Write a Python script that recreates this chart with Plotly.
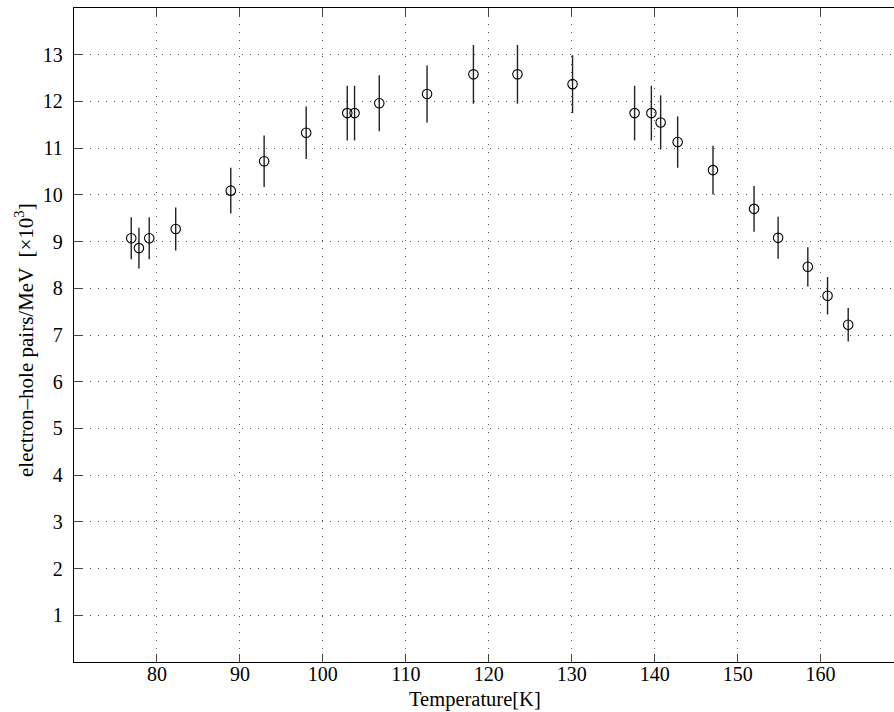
import plotly.graph_objects as go

# Measured pair-creation yield versus temperature
temperature_K = [76.9, 77.83, 79.07, 82.26, 88.9, 92.92, 97.99, 102.94, 103.82,
                 106.8, 112.56, 118.15, 123.46, 130.1, 137.58, 139.6, 140.72,
                 142.77, 147.03, 151.98, 154.88, 158.46, 160.84, 163.33]
pairs_per_MeV = [9.07, 8.86, 9.07, 9.27, 10.09, 10.72, 11.33, 11.75, 11.75,
                 11.96, 12.16, 12.58, 12.58, 12.37, 11.75, 11.75, 11.55,
                 11.13, 10.53, 9.70, 9.08, 8.46, 7.84, 7.22]
pairs_err = [0.45, 0.435, 0.45, 0.46, 0.49, 0.55, 0.56, 0.585, 0.585,
             0.60, 0.61, 0.63, 0.63, 0.62, 0.585, 0.585, 0.58,
             0.55, 0.52, 0.49, 0.45, 0.42, 0.40, 0.36]

x_ticks = [80, 90, 100, 110, 120, 130, 140, 150, 160]
y_ticks = [1, 2, 3, 4, 5, 6, 7, 8, 9, 10, 11, 12, 13]

x_title = "Temperature[K]"
y_title = "electron\u2013hole pairs/MeV  [\u00d710<sup>3</sup>]"

FONT = "Liberation Serif, Times New Roman, serif"

fig = go.Figure()
fig.add_trace(go.Scatter(
    x=temperature_K,
    y=pairs_per_MeV,
    mode="markers",
    marker=dict(symbol="circle-open", size=9.5, color="black",
                line=dict(width=1.1, color="black")),
    error_y=dict(type="data", array=pairs_err, visible=True,
                 color="#222222", thickness=1.4, width=0),
    showlegend=False,
))

axis_common = dict(
    showline=True, linecolor="black", linewidth=1.3,
    ticks="inside", ticklen=8, tickwidth=1, tickcolor="#444444",
    showgrid=True, gridcolor="#555555", gridwidth=1, griddash="1px,7px",
    zeroline=False,
    tickfont=dict(family=FONT, size=20, color="black"),
)

fig.update_layout(
    width=894, height=712,
    margin=dict(l=74, r=0, t=8, b=50),
    paper_bgcolor="white", plot_bgcolor="white",
    font=dict(family=FONT, color="black"),
    xaxis=dict(axis_common, range=[70, 168.85], tickvals=x_ticks,
               mirror="ticks", ticklabelstandoff=-6),
    yaxis=dict(axis_common, range=[0, 14], tickvals=y_ticks,
               ticklabelstandoff=6),
    annotations=[
        dict(text=x_title, xref="paper", yref="paper",
             x=(475 - 74) / 820, y=-(699 - 662) / 654,
             xanchor="center", yanchor="middle", showarrow=False,
             font=dict(family=FONT, size=20.5, color="black")),
        dict(text=y_title, xref="paper", yref="paper",
             x=-(74 - 24) / 820, y=(662 - 340) / 654,
             xanchor="center", yanchor="middle", textangle=-90,
             showarrow=False,
             font=dict(family=FONT, size=21, color="black")),
    ],
)

fig.write_html("out.html")
